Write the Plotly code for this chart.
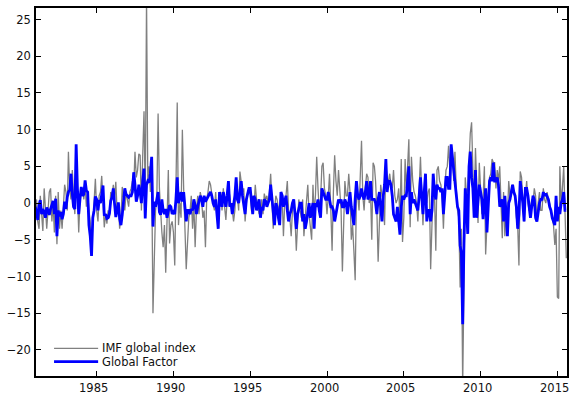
import pandas as pd
import plotly.graph_objects as go

start_month = "1981-01-01"

imf_global_index = [
    -1.0, 0.5, -2.5, -3.5, 1.0, -2.0, -3.8, 2.0, -1.5, -3.5, -1.0, 1.5,      # 1981
    2.0, -2.5, 0.0, -4.0, 1.0, -5.6, 1.5, -3.5, -1.0, -3.5, -0.5, 2.5,       # 1982
    1.5, -1.0, 7.0, 2.0, 0.5, 4.5, 1.0, -1.5, 4.0, 1.5, -4.0, 0.5,           # 1983
    1.5, 2.0, 0.5, 2.5, -0.5, 1.5, -1.0, -2.5, -6.0, -3.0, -1.0, 3.3,        # 1984
    -1.0, -2.5, 1.0, 1.5, 3.7, 0.5, -3.3, -1.5, -2.8, -1.0, -2.0, 1.5,       # 1985
    1.0, 2.5, 0.5, 2.9, -1.0, 0.0, -3.5, -2.0, 2.2, 0.5, -1.0, 1.5,          # 1986
    0.5, -0.5, 1.5, 2.0, 3.0, 2.0, 7.0, 3.5, 4.5, 6.7, 6.5, -1.0,            # 1987
    6.5, 12.5, 0.0, 28.0, 3.0, 5.0, 1.5, 4.5, -15.0, -9.0, -1.0, 0.5,        # 1988
    12.2, 2.0, -2.0, -4.0, -6.0, -3.0, -9.5, -2.0, 4.5, -5.5, -3.0, -2.5,    # 1989
    -4.0, -8.5, 2.0, 13.7, -3.0, 0.0, -2.0, 10.0, 2.0, -4.0, -9.0, -5.5,     # 1990
    -2.0, -1.0, 1.0, -3.5, 0.0, -6.0, -1.0, 1.0, -1.5, 1.5, 0.5, -2.0,       # 1991
    -1.0, -6.0, 0.5, 1.5, 3.0, 2.5, 1.0, 0.0, -1.0, 1.5, -1.5, -3.0,         # 1992
    0.5, 1.5, -1.0, 2.0, -0.5, -2.3, 0.5, 2.0, 1.0, -0.5, -1.0, -2.5,        # 1993
    -1.0, 2.5, 1.0, -1.0, 4.3, 3.0, 1.5, 2.0, -2.5, 0.0, 1.5, 2.0,           # 1994
    1.5, -1.0, 1.0, -0.5, 2.5, 0.5, -0.5, -1.5, -1.0, 0.5, -1.5, 1.3,        # 1995
    0.5, 1.0, 0.0, 1.5, 4.0, 0.5, -3.5, -1.0, 1.0, 0.5, -1.0, -2.0,          # 1996
    1.5, 0.5, -4.5, 0.0, 1.0, 3.0, -1.0, -2.0, -4.5, -1.0, 0.5, -2.0,        # 1997
    -6.5, -3.0, 0.5, -1.0, -2.0, 0.5, -4.5, -2.0, 0.0, 2.5, -1.5, -3.0,      # 1998
    -5.0, 2.5, -1.5, 1.0, 6.3, 2.0, -1.0, 0.5, 5.0, 5.5, 2.0, 1.0,           # 1999
    -1.5, 1.0, 4.0, -1.0, -6.5, 1.5, 6.5, 3.0, 1.0, 4.5, 1.5, -1.0,          # 2000
    -9.3, -1.0, 3.0, 1.0, 1.0, 4.0, 1.5, -5.0, -3.0, -6.5, -10.5, 1.0,       # 2001
    1.0, -1.0, 3.0, 8.5, 1.0, -1.0, 2.0, 4.0, 3.5, 0.0, 1.5, -5.0,           # 2002
    5.5, 5.0, 3.0, -1.0, -8.0, -2.0, 2.5, 1.0, 0.5, -3.0, 5.5, 3.0,          # 2003
    3.0, 4.0, 2.5, 2.0, 4.5, 1.0, 0.0, 0.5, 2.0, -2.5, 6.0, -5.3,            # 2004
    -2.0, 6.0, 2.0, 5.0, 8.7, -3.3, 6.3, 3.0, 1.5, 1.0, 0.0, -2.5,           # 2005
    3.0, 6.3, 1.5, -3.0, 1.0, 3.0, 0.0, 1.5, 2.0, -9.0, -3.0, 1.5,           # 2006
    1.0, -6.5, 4.5, 5.0, 3.0, 2.5, 1.0, -3.5, 1.5, 4.5, 5.0, 7.8,            # 2007
    4.5, 6.0, 7.0, 3.0, 7.0, 2.0, -1.0, -2.0, -11.5, -3.5, -25.0, -11.0,     # 2008
    3.5, 1.0, 2.0, 5.5, 9.5, 11.0, 5.0, -2.0, 7.5, 1.0, -2.7, 5.5,           # 2009
    1.5, -1.5, 0.5, 5.0, -7.0, -2.0, 1.0, 3.5, 4.0, 6.0, 5.5, 5.5,           # 2010
    2.0, 4.5, 3.0, 5.0, -1.0, -4.8, 1.5, -4.5, -1.0, -2.0, 3.0, 1.0,         # 2011
    1.0, 2.5, 1.5, 0.5, -2.0, -3.0, -8.5, 4.3, 3.5, 0.5, -2.5, 1.0,          # 2012
    3.0, 0.0, -1.0, -1.0, 0.5, 0.0, 2.0, 1.0, -2.5, 0.0, 1.5, -1.0,          # 2013
    -1.0, 2.0, 0.5, 0.0, 1.5, 0.5, 0.0, -1.0, -2.0, -3.0, -5.7, -3.5,        # 2014
    -12.8, -13.0, 5.0, 0.0, 2.0, 5.0, -1.0, -7.5,                            # 2015
]

global_factor = [
    -0.5, -1.2, -2.3, -0.3, 0.4, -1.5, -0.8, -1.2, -2.0, -0.6, -1.0, -1.6,   # 1981
    -0.8, -0.3, 0.3, -1.5, 0.6, -4.5, -1.0, -1.8, -1.2, -2.2, -1.5, 0.2,     # 1982
    -0.8, 0.8, 1.5, 1.8, 4.0, 1.3, -0.5, -0.8, 8.0, 2.0, -1.5, 0.5,          # 1983
    2.2, 1.0, 1.2, 3.1, 1.7, 1.5, -3.0, -4.5, -7.2, -2.0, -1.0, 0.9,         # 1984
    0.5, -1.0, 0.4, 0.0, 1.0, 2.4, -1.7, -1.5, -2.1, -2.0, -1.4, 0.3,        # 1985
    0.8, 2.0, 0.0, -1.9, -1.0, 0.1, -2.1, -3.0, -1.6, 0.4, 2.0, 1.2,         # 1986
    1.0, 0.8, 1.0, 1.0, 1.5, 4.2, 2.5, 0.2, 1.0, 2.5, 1.5, 0.0,              # 1987
    3.0, 4.7, -2.1, 2.5, 3.0, 2.8, 4.0, 6.3, -3.2, 0.2, -0.5, 0.8,           # 1988
    1.5, -1.2, -1.6, 0.5, -1.0, -1.5, -0.8, -2.0, -1.0, -0.3, -0.5, -1.5,    # 1989
    -1.2, -1.5, 0.5, 3.5, 0.0, 1.0, 1.5, 0.2, 1.5, -0.5, -2.5, -1.0,         # 1990
    -1.0, -1.5, -0.8, -1.0, 0.5, -0.3, -1.5, -0.5, 0.2, 1.0, 0.5, -0.5,      # 1991
    1.0, 0.2, 0.5, 1.0, 1.2, 1.5, 1.0, 0.0, -0.5, 0.5, -2.0, -3.5,           # 1992
    1.5, 0.3, -0.5, 1.5, 0.5, -0.5, 1.0, 3.0, -0.5, 0.0, -1.5, 0.0,          # 1993
    1.0, 3.5, 0.5, 0.0, 1.5, 3.0, 1.0, 0.0, -1.5, 0.5, 1.5, 2.0,             # 1994
    2.0, 0.0, -1.5, 1.0, 0.5, -1.0, 0.0, 0.5, -2.0, -0.5, -1.0, 0.5,         # 1995
    0.3, -0.5, 0.0, 0.5, 2.5, 0.5, -1.5, -3.0, 0.0, -0.5, -2.0, -3.0,        # 1996
    1.5, 1.0, -0.5, 0.5, 1.0, -1.0, -2.5, -1.5, -1.0, 0.0, 0.5, -1.5,        # 1997
    -3.5, -1.5, -0.5, 0.0, 0.0, -2.5, -1.5, -3.5, -2.5, -1.0, 0.0, -2.0,     # 1998
    -1.0, 0.0, -3.5, 0.0, -0.5, 0.5, -1.0, -2.0, 2.0, 1.5, 1.0, 0.5,         # 1999
    0.5, 1.5, 0.5, -0.5, -0.5, -1.0, -2.5, -1.5, -0.5, 0.5, 0.0, 0.5,        # 2000
    -0.5, -0.5, 0.5, 0.0, -1.5, 0.5, 1.5, -0.5, -1.5, -3.0, 0.5, 3.0,        # 2001
    1.0, 0.5, 1.0, 2.0, 1.0, 0.5, 1.5, 3.0, 0.5, 1.0, 3.0, 0.5,              # 2002
    0.5, 0.5, 0.0, -1.5, 0.5, 1.5, -0.5, -2.5, 1.0, 2.5, 6.0, 1.5,           # 2003
    3.0, 3.0, 2.5, 1.0, -1.5, -2.0, -2.5, -0.5, -2.0, -4.3, -0.5, 1.0,       # 2004
    0.5, 1.0, 1.0, 3.0, 5.0, -1.5, 1.5, 0.0, 0.5, 0.0, -0.5, -1.0,           # 2005
    1.0, 3.5, 1.0, -1.5, 1.5, 4.0, -2.5, -1.0, -1.0, -2.5, -1.0, 4.0,        # 2006
    1.5, 0.5, 2.5, 2.0, 2.0, 1.5, 2.0, -1.5, 1.0, 3.5, 3.5, 2.0,             # 2007
    2.0, 8.0, 6.3, 4.5, 2.5, 1.0, -0.5, -1.0, -5.8, -6.8, -16.5, -5.5,       # 2008
    2.0, -0.5, -4.2, 5.0, 7.0, 3.5, 2.0, -2.0, 4.5, -2.0, 1.0, 2.5,          # 2009
    1.5, 0.5, -2.2, 0.5, 2.0, -4.0, 0.5, 3.0, 3.5, 3.0, 5.5, 3.0,            # 2010
    3.0, 3.5, 2.5, -0.5, 0.0, 0.5, -2.5, 1.0, -1.5, -4.5, 0.0, 0.5,          # 2011
    1.5, 2.5, 1.5, 1.0, -0.5, -3.5, -1.5, 3.0, 1.5, 0.0, -2.5, 2.0,          # 2012
    2.0, 1.0, -0.5, -2.0, -0.5, 1.0, 0.5, -2.0, -2.5, -1.0, 0.0, 0.5,        # 2013
    0.5, 1.5, 1.0, 1.3, 1.0, 0.5, -0.5, -1.0, -2.0, -2.5, -3.0, 1.0,         # 2014
    -2.5, -0.5, -1.5, 0.0, 0.5, 1.5, -1.0, -1.0,                             # 2015
]

series_names = ["IMF global index", "Global Factor"]
series_colors = ["#808080", "#0000ff"]
tick_years = [1985, 1990, 1995, 2000, 2005, 2010, 2015]
y_ticks = [-20, -15, -10, -5, 0, 5, 10, 15, 20, 25]

dates = pd.date_range(start_month, periods=len(imf_global_index), freq="MS")
tick_dates = [f"{y}-01-01" for y in tick_years]

FONT = "DejaVu Sans"

fig = go.Figure()
fig.add_trace(go.Scatter(
    x=dates, y=imf_global_index, mode="lines", name=series_names[0],
    line=dict(color=series_colors[0], width=1.3), showlegend=False,
))
fig.add_trace(go.Scatter(
    x=dates, y=global_factor, mode="lines", name=series_names[1],
    line=dict(color=series_colors[1], width=2.8), showlegend=False,
))

# legend drawn by hand (compact rows, like the reference)
legend_rows_y = [0.0753, 0.0389]
legend_widths = [1.3, 2.8]
for name, color, yy, w in zip(series_names, series_colors, legend_rows_y, legend_widths):
    fig.add_shape(type="line", xref="paper", yref="paper",
                  x0=0.034, x1=0.117, y0=yy, y1=yy,
                  line=dict(color=color, width=w))
    fig.add_annotation(xref="paper", yref="paper", x=0.121, y=yy,
                       xanchor="left", yanchor="middle", showarrow=False,
                       text=name, font=dict(family=FONT, size=11.5, color="#111111"))

# x tick labels (placed slightly left of the ticks, as in the reference)
for d, y in zip(tick_dates, tick_years):
    fig.add_annotation(xref="x", yref="paper", x=d, y=0, xanchor="center",
                       yanchor="top", yshift=-3, xshift=-3, showarrow=False,
                       text=str(y), font=dict(family=FONT, size=11.5, color="#111111"))

fig.update_layout(
    width=569, height=394,
    margin=dict(l=36, r=2, t=8, b=18, autoexpand=False),
    paper_bgcolor="white", plot_bgcolor="white",
    font=dict(family=FONT, size=11.5, color="#111111"),
    showlegend=False,
)
fig.update_xaxes(
    range=["1981-01-19", "2015-08-18"],
    tickvals=tick_dates,
    showticklabels=False,
    ticks="inside", ticklen=5, tickwidth=1, tickcolor="black",
    showline=True, linecolor="black", linewidth=1.5, mirror="ticks",
    showgrid=False, zeroline=False, automargin=False,
)
fig.update_yaxes(
    range=[-23.55, 26.57],
    tickvals=y_ticks,
    ticks="inside", ticklen=5, tickwidth=1, tickcolor="black",
    showline=True, linecolor="black", linewidth=1.5, mirror="ticks",
    showgrid=False, zeroline=False, automargin=False,
    ticklabelstandoff=1,
)

fig.write_html(
    "out.html",
    config={"displayModeBar": False},
    post_script="document.body.style.margin='0px';document.body.style.overflow='hidden';",
)
